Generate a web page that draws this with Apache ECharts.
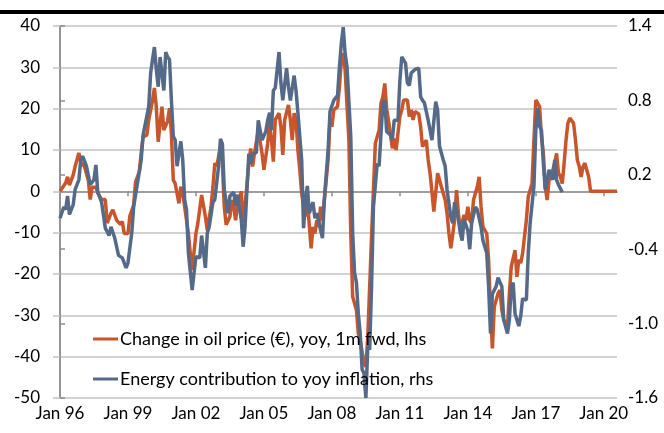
<!DOCTYPE html>
<html>
<head>
<meta charset="utf-8">
<script src="https://cdn.jsdelivr.net/npm/echarts@6/dist/echarts.min.js"></script>
<style>
  html, body { margin: 0; padding: 0; background: #fff; }
  #chart { width: 664px; height: 433px; }
</style>
</head>
<body>
<div id="chart"></div>
<script>
// months counted from Jan 96
const tickLabels = ['Jan 96', 'Jan 99', 'Jan 02', 'Jan 05', 'Jan 08', 'Jan 11', 'Jan 14', 'Jan 17', 'Jan 20']
const lastMonth = 295

// Change in oil price (€), yoy, 1m fwd - lhs
const oilMonths = [0, 3, 4, 5, 7, 8, 10, 11, 13, 15, 16, 17, 19, 20, 22, 24, 25, 27, 28, 30, 32, 33, 34, 36, 37, 39, 40, 42, 43, 44, 46, 47, 49, 50, 51, 52, 54, 55, 57, 58, 59, 60, 61, 63, 64, 65, 66, 68, 69, 70, 72, 73, 74, 75, 76, 77, 78, 80, 81, 82, 83, 85, 86, 87, 88, 90, 91, 92, 93, 94, 96, 97, 98, 100, 101, 102, 103, 105, 107, 108, 110, 111, 112, 113, 114, 116, 117, 118, 119, 121, 122, 123, 124, 125, 126, 127, 128, 130, 131, 133, 134, 135, 136, 137, 138, 139, 140, 142, 143, 144, 145, 147, 148, 149, 150, 151, 153, 154, 155, 157, 158, 159, 161, 162, 163, 164, 165, 167, 168, 169, 170, 171, 172, 173, 175, 176, 177, 178, 180, 181, 182, 184, 185, 186, 187, 188, 190, 191, 192, 194, 195, 196, 197, 198, 200, 201, 202, 204, 205, 206, 207, 209, 210, 211, 212, 214, 215, 216, 217, 218, 219, 221, 222, 223, 224, 226, 227, 228, 229, 230, 232, 233, 234, 235, 237, 238, 239, 241, 242, 243, 244, 245, 246, 247, 248, 249, 250, 251, 252, 253, 254, 255, 256, 257, 258, 259, 260, 262, 263, 264, 265, 266, 267, 268, 269, 270, 272, 273, 274, 275, 276, 277, 278, 280, 281, 295]
const oilValues = [0, 2, 3.5, 1.5, 4, 6, 9.3, 7, 6, 2.7, -2, 1, 1, -0.4, -2, -2, -7.7, -5.3, -4.5, -7, -8, -7.3, -10.2, -10.2, -6, -3.3, 2.3, 4.7, 9.3, 13.2, 13.6, 17.3, 22, 25, 20.5, 12, 20.5, 14.8, 17, 20.1, 14, 2.7, 1.9, -2.9, 1.1, -0.4, -3.7, -10.2, -15, -19, -10.2, -7.7, -7.7, -0.9, -0.5, -6.1, -9.4, -3.7, 1.1, 6.8, 6, 10.8, 6.8, -3.7, -8.1, -6.1, -2.1, -3.7, -7, -3.5, 0, -7.7, -3.7, 6.8, 10.4, 6, 9.2, 14.8, 9.2, 5.2, 11.6, 16.5, 12.4, 7.2, 17.3, 18.9, 15.6, 8.8, 17.3, 20.9, 17.3, 12.4, 18.9, 17.3, 10, 5.2, -0.5, -6.1, -2.1, -13.8, -8.6, -10.2, -7, -8.6, -3.7, -7, -2.1, 7.6, 17.3, 15.6, 19.7, 20.5, 25.3, 31.8, 33.4, 29.4, 12.4, -10.2, -25.5, -28.7, -34.4, -36, -41.6, -42.4, -35.2, -23.1, -11, 11.6, 13.2, 14.8, 21.3, 22.9, 26.1, 20, 14, 10.4, 12.8, 10, 18.1, 19.7, 22.1, 22.1, 18.1, 19.7, 17.3, 19.3, 18.7, 15.6, 10.8, 12.4, 7.6, 4.4, 4.4, -4.9, 4.4, 4.6, 1.1, -2.1, -5.3, -10.2, -13.8, -7, 0.3, -5.3, -9.4, -5.7, -7, -3.7, -7, -7.7, -2.1, 1.1, 3.5, -3.7, -8.6, -10.2, -16.6, -28.7, -38, -27.9, -24.7, -23.9, -28.7, -31.1, -32.7, -24.7, -18.2, -14.2, -20.7, -16.6, -17.4, -15, -11, -7, -1.3, -1, 1.9, 12.4, 22.1, 22.5, 20.5, 13.2, 9.2, 1.1, -2.1, 2.7, 3.5, 6.8, 9.2, 4.4, 3.6, 1.9, 6.8, 12.4, 16.5, 17.7, 16.5, 12.4, 7.6, 6, 3.5, 6, 6.8, 3.5, 0, 0]

// Energy contribution to yoy inflation - rhs
const energyMonths = [0, 2, 3, 4, 5, 7, 8, 10, 11, 12, 14, 16, 18, 19, 20, 22, 24, 26, 27, 29, 31, 33, 35, 36, 38, 39, 41, 43, 44, 45, 47, 48, 49, 50, 51, 52, 53, 55, 56, 57, 58, 59, 60, 61, 62, 64, 65, 66, 67, 68, 70, 71, 72, 74, 75, 77, 78, 79, 81, 82, 84, 85, 86, 87, 89, 90, 92, 93, 94, 96, 97, 98, 100, 101, 102, 104, 105, 106, 107, 109, 110, 111, 112, 113, 114, 116, 117, 118, 120, 121, 122, 124, 125, 126, 128, 129, 130, 131, 132, 134, 135, 136, 137, 138, 139, 140, 142, 143, 144, 145, 146, 147, 148, 149, 150, 151, 152, 154, 155, 156, 157, 158, 159, 160, 161, 162, 163, 164, 165, 166, 168, 169, 170, 171, 172, 173, 175, 176, 177, 179, 180, 181, 183, 184, 185, 186, 188, 190, 191, 192, 193, 195, 197, 198, 199, 200, 201, 203, 204, 205, 207, 208, 209, 211, 212, 213, 214, 216, 217, 218, 220, 221, 223, 224, 225, 226, 227, 228, 229, 231, 232, 234, 235, 237, 238, 239, 240, 241, 243, 244, 245, 247, 248, 249, 250, 251, 252, 253, 254, 255, 256, 257, 259, 260, 261, 262, 263, 264, 265, 266]
const energyValues = [-0.15, -0.06, -0.08, 0.03, -0.12, -0.04, 0.08, 0.16, 0.32, 0.35, 0.27, 0.12, 0.16, 0.28, 0.06, -0.02, -0.23, -0.29, -0.22, -0.31, -0.45, -0.47, -0.55, -0.51, -0.27, -0.06, 0.13, 0.32, 0.52, 0.53, 0.75, 1.02, 1.13, 1.23, 1.05, 0.91, 1.15, 0.88, 1.19, 1.15, 1.13, 0.8, 0.51, 0.48, 0.27, 0.47, 0.32, 0, -0.08, -0.43, -0.73, -0.59, -0.46, -0.47, -0.29, -0.55, -0.27, -0.22, -0.02, 0, 0.27, 0.49, 0.45, 0.08, -0.11, 0.03, 0.06, -0.05, 0.04, -0.16, -0.38, -0.22, 0.37, 0.29, 0.37, 0.38, 0.64, 0.56, 0.48, 0.55, 0.64, 0.7, 0.56, 0.88, 0.9, 1.19, 0.94, 0.8, 1.06, 0.91, 0.8, 1, 0.88, 0.7, 0.32, -0.23, 0, 0.11, -0.11, -0.02, -0.15, -0.11, -0.18, -0.17, -0.31, 0, 0.4, 0.71, 0.7, 0.8, 0.8, 0.84, 1.07, 1.26, 1.39, 1.18, 1.07, 0.51, -0.27, -0.59, -0.67, -0.92, -1.08, -1.37, -1.4, -1.6, -1.19, -1.21, -0.7, -0.06, 0.29, 0.27, 0.53, 0.78, 0.8, 0.55, 0.52, 0.48, 0.64, 0.64, 0.96, 1.15, 1.1, 0.94, 0.92, 1.02, 1.05, 1.06, 0.83, 0.8, 0.78, 0.64, 0.48, 0.48, 0.79, 0.72, 0.43, 0.32, 0.27, 0.08, -0.14, -0.19, -0.02, -0.16, -0.27, -0.33, -0.16, -0.25, -0.4, -0.19, -0.06, -0.08, -0.22, -0.33, -0.33, -0.43, -0.7, -1.08, -0.76, -0.7, -0.63, -0.7, -0.97, -1.08, -0.97, -0.7, -0.67, -0.92, -1.02, -0.94, -0.8, -0.81, -0.43, -0.19, -0.19, 0.11, 0.56, 0.74, 0.59, 0.56, 0.29, 0.08, 0.24, 0.25, 0.16, 0.32, 0.16, 0.12, 0.11, 0.06]

const seriesNames = [
  'Change in oil price (€), yoy, 1m fwd, lhs',
  'Energy contribution to yoy inflation, rhs'
]

const font = 'Lato'
const gridColor = '#c3c3c3'
const axisColor = '#8e8e8e'

const chart = echarts.init(document.getElementById('chart'))

const options = {
  animation: false,
  textStyle: { fontFamily: font },
  graphic: [
    // black rule across the top
    { type: 'rect', left: 0, top: 10, shape: { width: 664, height: 4 }, style: { fill: '#000' } }
  ],
  grid: { left: 60, right: 47, top: 26, bottom: 35 },
  legend: {
    orient: 'vertical',
    left: 88,
    top: 325,
    icon: 'rect',
    itemWidth: 25,
    itemHeight: 3,
    itemGap: 22,
    textStyle: { fontFamily: font, fontSize: 18, color: '#000', padding: [0, 0, 0, -3] },
    data: seriesNames
  },
  xAxis: [
    {
      // bottom labels only
      type: 'value',
      min: 0,
      max: lastMonth,
      interval: 36,
      axisLine: { show: false },
      axisTick: { show: false },
      splitLine: { show: false },
      axisLabel: {
        customValues: tickLabels.map((_, i) => i * 36),
        formatter: v => tickLabels[Math.round(v / 36)] || '',
        fontSize: 17,
        color: '#000',
        margin: 7
      }
    },
    {
      // axis line on zero with ticks
      type: 'value',
      position: 'top',
      min: 0,
      max: lastMonth,
      interval: 36,
      axisLine: { show: true, onZero: true, onZeroAxisIndex: 0, lineStyle: { color: axisColor, width: 1.5 } },
      axisTick: {
        show: true,
        inside: true,
        length: 5,
        customValues: tickLabels.map((_, i) => i * 36).slice(1),
        lineStyle: { color: axisColor, width: 1.5 }
      },
      axisLabel: { show: false },
      splitLine: { show: false }
    }
  ],
  yAxis: [
    {
      type: 'value',
      min: -50,
      max: 40,
      interval: 10,
      axisLine: { show: true, lineStyle: { color: axisColor, width: 1.5 } },
      axisTick: { show: true, length: 7, lineStyle: { color: gridColor, width: 1.5 } },
      splitLine: { show: true, lineStyle: { color: gridColor, width: 1.5 } },
      axisLabel: { fontSize: 17, color: '#000', margin: 20 }
    },
    {
      type: 'value',
      min: -1.6,
      max: 1.4,
      interval: 0.6,
      axisLine: { show: true, lineStyle: { color: axisColor, width: 1.5 } },
      axisTick: { show: true, length: 5, lineStyle: { color: axisColor, width: 1.5 } },
      splitLine: { show: false },
      axisLabel: { fontSize: 17, color: '#000', margin: 11, formatter: v => v.toFixed(1) }
    }
  ],
  series: [
    {
      name: seriesNames[0],
      type: 'line',
      xAxisIndex: 0,
      yAxisIndex: 0,
      symbol: 'none',
      color: '#c8562a',
      lineStyle: { width: 3.5 },
      data: oilMonths.map((m, i) => [m, oilValues[i]])
    },
    {
      name: seriesNames[1],
      type: 'line',
      xAxisIndex: 0,
      yAxisIndex: 1,
      symbol: 'none',
      color: '#546a88',
      lineStyle: { width: 3.5 },
      data: energyMonths.map((m, i) => [m, energyValues[i]])
    }
  ]
}
chart.setOption(options)
</script>
</body>
</html>
